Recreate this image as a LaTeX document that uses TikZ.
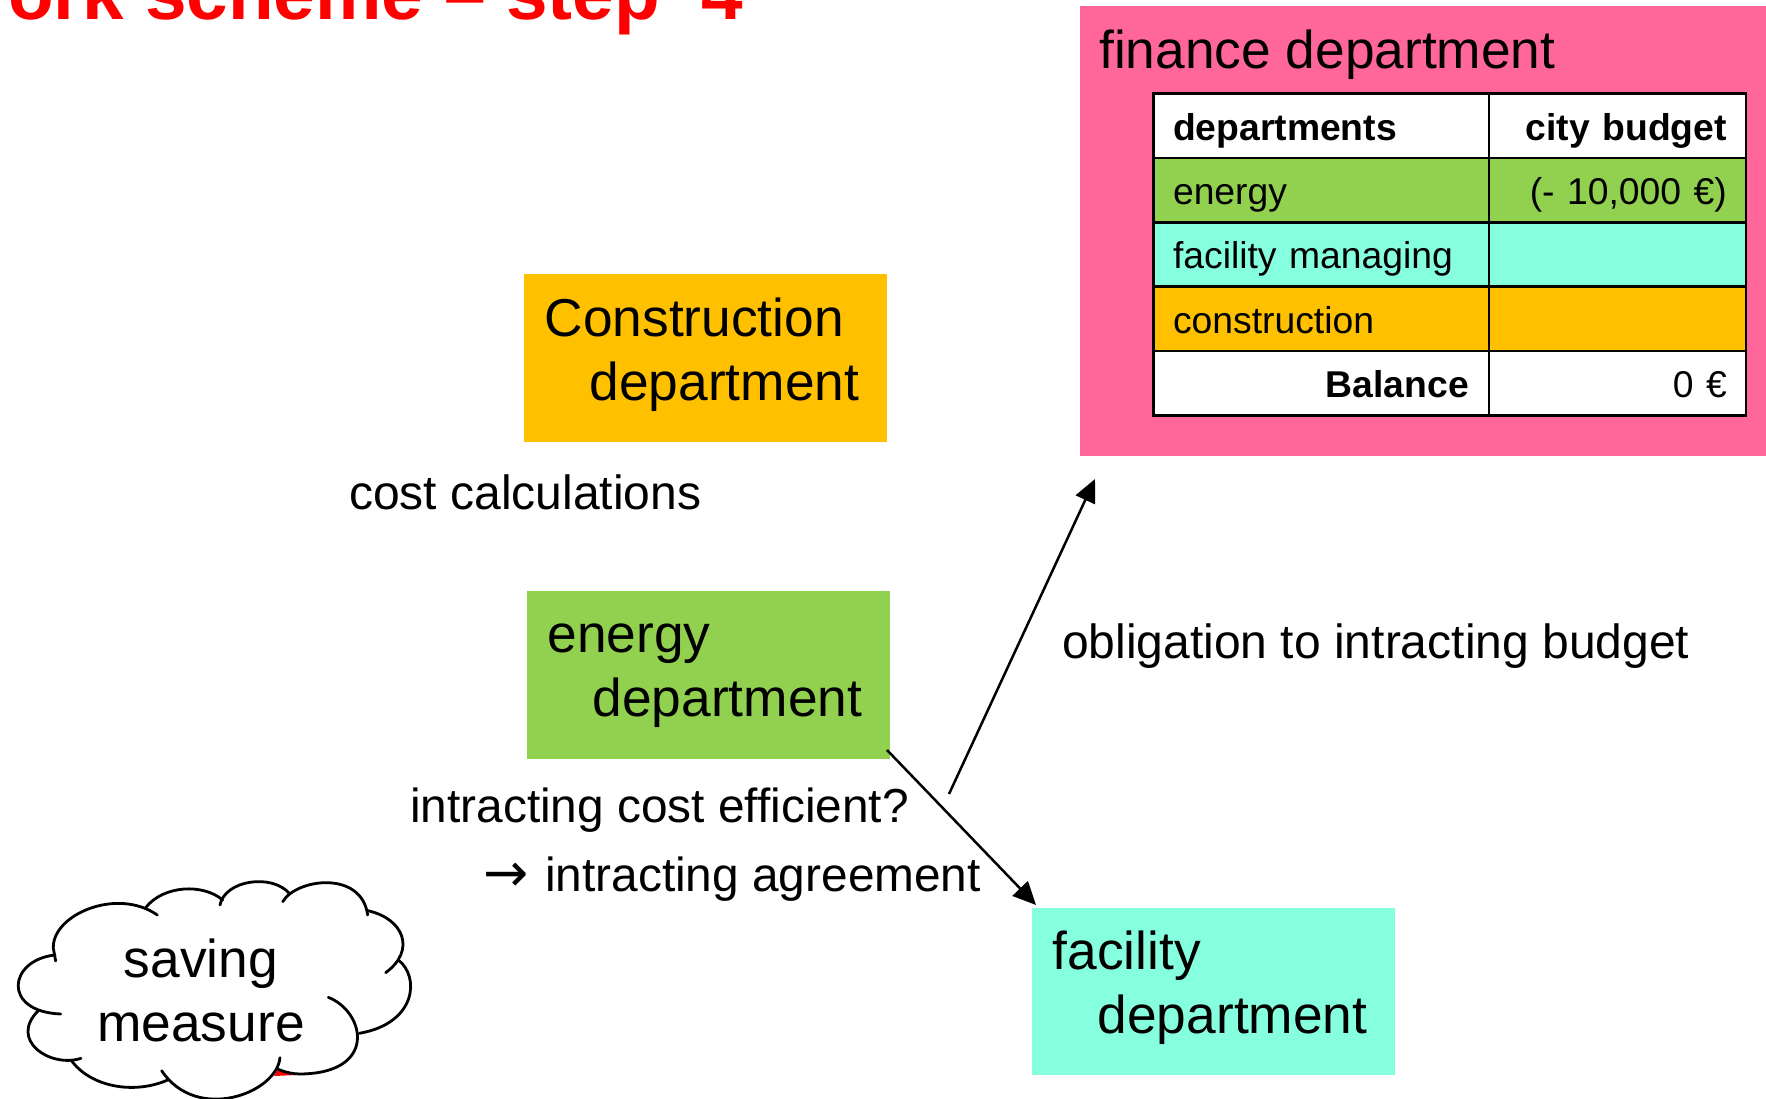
\documentclass[tikz,border=0pt]{standalone}
\usepackage{fontspec}
\setmainfont{Liberation Sans}
\newfontfamily\arrowfont{DejaVu Sans}
\usetikzlibrary{arrows.meta}
\definecolor{pinkc}{HTML}{FF6699}
\definecolor{greenc}{HTML}{92D050}
\definecolor{aquac}{HTML}{86FFDE}
\definecolor{orangec}{HTML}{FFC000}
\newcommand{\fbig}{\fontsize{53.3}{64}\selectfont}
\newcommand{\fmid}{\fontsize{48}{58}\selectfont}
\newcommand{\fmidb}{\fontsize{47.8}{58}\selectfont}
\newcommand{\fsmall}{\fontsize{37.3}{45}\selectfont}
\newcommand{\topstrut}{\rule{0pt}{38pt}}
\newcommand{\botstrut}{\rule[-18pt]{0pt}{18pt}}
\tikzset{
  deptbox/.style={rectangle,draw=none,anchor=north west,minimum width=363pt,minimum height=167.5pt,
    inner xsep=0pt,inner ysep=0pt,align=left,text width=322pt,font=\fbig},
  lab/.style={anchor=base west,inner sep=0pt,font=\fmid},
  cell/.style={rectangle,draw=black,line width=2.5pt,anchor=north west,minimum height=64.3pt,
    inner ysep=0pt,text height=29pt,text depth=0pt,font=\fsmall},
  namecell/.style={cell,minimum width=335.5pt,text width=296pt,inner xsep=17.75pt},
  valcell/.style={cell,minimum width=257pt,text width=219pt,inner xsep=18pt,align=right},
  conn/.style={line width=2.5pt,-{Triangle[length=23pt,width=21pt]}},
  cloudline/.style={line width=2.8pt,line cap=round}
}
\begin{document}
\begin{tikzpicture}[x=1pt,y=-1pt]
\useasboundingbox (0,0) rectangle (1766,1099);
% title
\begin{scope}
\clip (0,0) rectangle (1766,1099);
\node[anchor=base west,inner sep=0pt,text=red,font=\fontsize{74.7}{90}\selectfont\bfseries] (title) at (8,19.5) {ork scheme – step\ \ 4};
\end{scope}
% finance
\node[rectangle,fill=pinkc,anchor=north west,minimum width=686pt,minimum height=450pt,inner sep=0pt] (finance) at (1080,6) {};
\node[anchor=base west,inner sep=0pt,font=\fbig] (fintitle) at (1099,69) {finance department};
\node[namecell,fill=white,font=\fsmall\bfseries] (c11) at (1152,92.5) {departments};
\node[valcell,fill=white,font=\fsmall\bfseries] (c12) at (1487.5,92.5) {city budget};
\node[namecell,fill=greenc] (c21) at (1152,156.8) {energy};
\node[valcell,fill=greenc] (c22) at (1487.5,156.8) {(- 10,000 €)};
\node[namecell,fill=aquac] (c31) at (1152,221.1) {facility managing};
\node[valcell,fill=aquac] (c32) at (1487.5,221.1) {};
\node[namecell,fill=orangec] (c41) at (1152,285.4) {construction};
\node[valcell,fill=orangec] (c42) at (1487.5,285.4) {};
\node[namecell,fill=white,align=right,font=\fsmall\bfseries] (c51) at (1152,349.7) {Balance};
\node[valcell,fill=white] (c52) at (1487.5,349.7) {0 €};
% departments
\node[deptbox,fill=orangec] (construction) at (524,274) {\topstrut Construction\\\hspace*{45pt}department\botstrut};
\node[deptbox,fill=greenc] (energy) at (527,591) {\topstrut energy\\\hspace*{45pt}department\botstrut};
\node[deptbox,fill=aquac] (facility) at (1032,907.5) {\topstrut facility\\\hspace*{45pt}department\botstrut};
% labels
\node[lab] (cost) at (349,509) {cost calculations};
\node[lab] (oblig) at (1062,658) {obligation to intracting budget};
\node[lab,font=\fmidb] (eff) at (410,822) {intracting cost efficient?};
\node[lab,font=\fmidb] (agr) at (483,891) {\makebox[62pt][l]{\arrowfont\fontsize{54}{58}\selectfont →}intracting agreement};
% connectors
\coordinate (a1s) at (887,750);
\coordinate (a1e) at (1036,905);
\coordinate (a2s) at (949,794);
\coordinate (a2e) at (1095,479);
\draw[conn] (a1s) -- (a1e);
\draw[conn] (a2s) -- (a2e);
% cloud
\begin{scope}[shift={(0,860)},x=0.33333pt,y=-0.33333pt]
\fill[red] (822,648) -- (888,645) -- (835,625) -- cycle;
\fill[white] (160,265) .. controls (155,165) and (350,80) .. (472,165)
 -- (437,143) .. controls (490,75) and (610,70) .. (668,120)
 -- (660,135) .. controls (675,60) and (815,40) .. (868,100)
 -- (848,125) .. controls (890,55) and (1085,30) .. (1103,165)
 -- (1103,152) .. controls (1210,175) and (1250,270) .. (1157,338)
 -- (1195,300) .. controls (1260,350) and (1250,490) .. (1078,520)
 -- (1075,515) .. controls (1070,590) and (990,642) .. (900,642)
 .. controls (880,642) and (855,637) .. (835,628)
 -- (840,593) .. controls (830,700) and (590,790) .. (485,632)
 -- (503,660) .. controls (400,705) and (270,680) .. (213,600)
 -- (243,595) .. controls (150,625) and (25,540) .. (115,452)
 -- (182,462) .. controls (5,455) and (25,300) .. (165,285) -- cycle;
\draw[cloudline] (167,303) -- (160,265) .. controls (155,165) and (350,80) .. (472,165);
\draw[cloudline] (437,143) .. controls (490,75) and (610,70) .. (668,120);
\draw[cloudline] (660,135) .. controls (675,60) and (815,40) .. (868,100);
\draw[cloudline] (848,125) .. controls (890,55) and (1085,30) .. (1103,165);
\draw[cloudline] (1103,152) .. controls (1210,175) and (1250,270) .. (1157,338);
\draw[cloudline] (1195,300) .. controls (1260,350) and (1250,490) .. (1078,520);
\draw[cloudline] (985,412) .. controls (1095,455) and (1135,640) .. (900,642) .. controls (880,642) and (855,637) .. (835,628);
\draw[cloudline] (840,593) .. controls (830,700) and (590,790) .. (485,632);
\draw[cloudline] (503,660) .. controls (400,705) and (270,680) .. (213,600);
\draw[cloudline] (243,595) .. controls (150,625) and (25,540) .. (115,452);
\draw[cloudline] (182,462) .. controls (5,455) and (25,300) .. (165,285);
\end{scope}
\node[inner sep=0pt,align=center,font=\fbig,anchor=base] (saving) at (201,1041) {saving\\measure};
\end{tikzpicture}
\end{document}
